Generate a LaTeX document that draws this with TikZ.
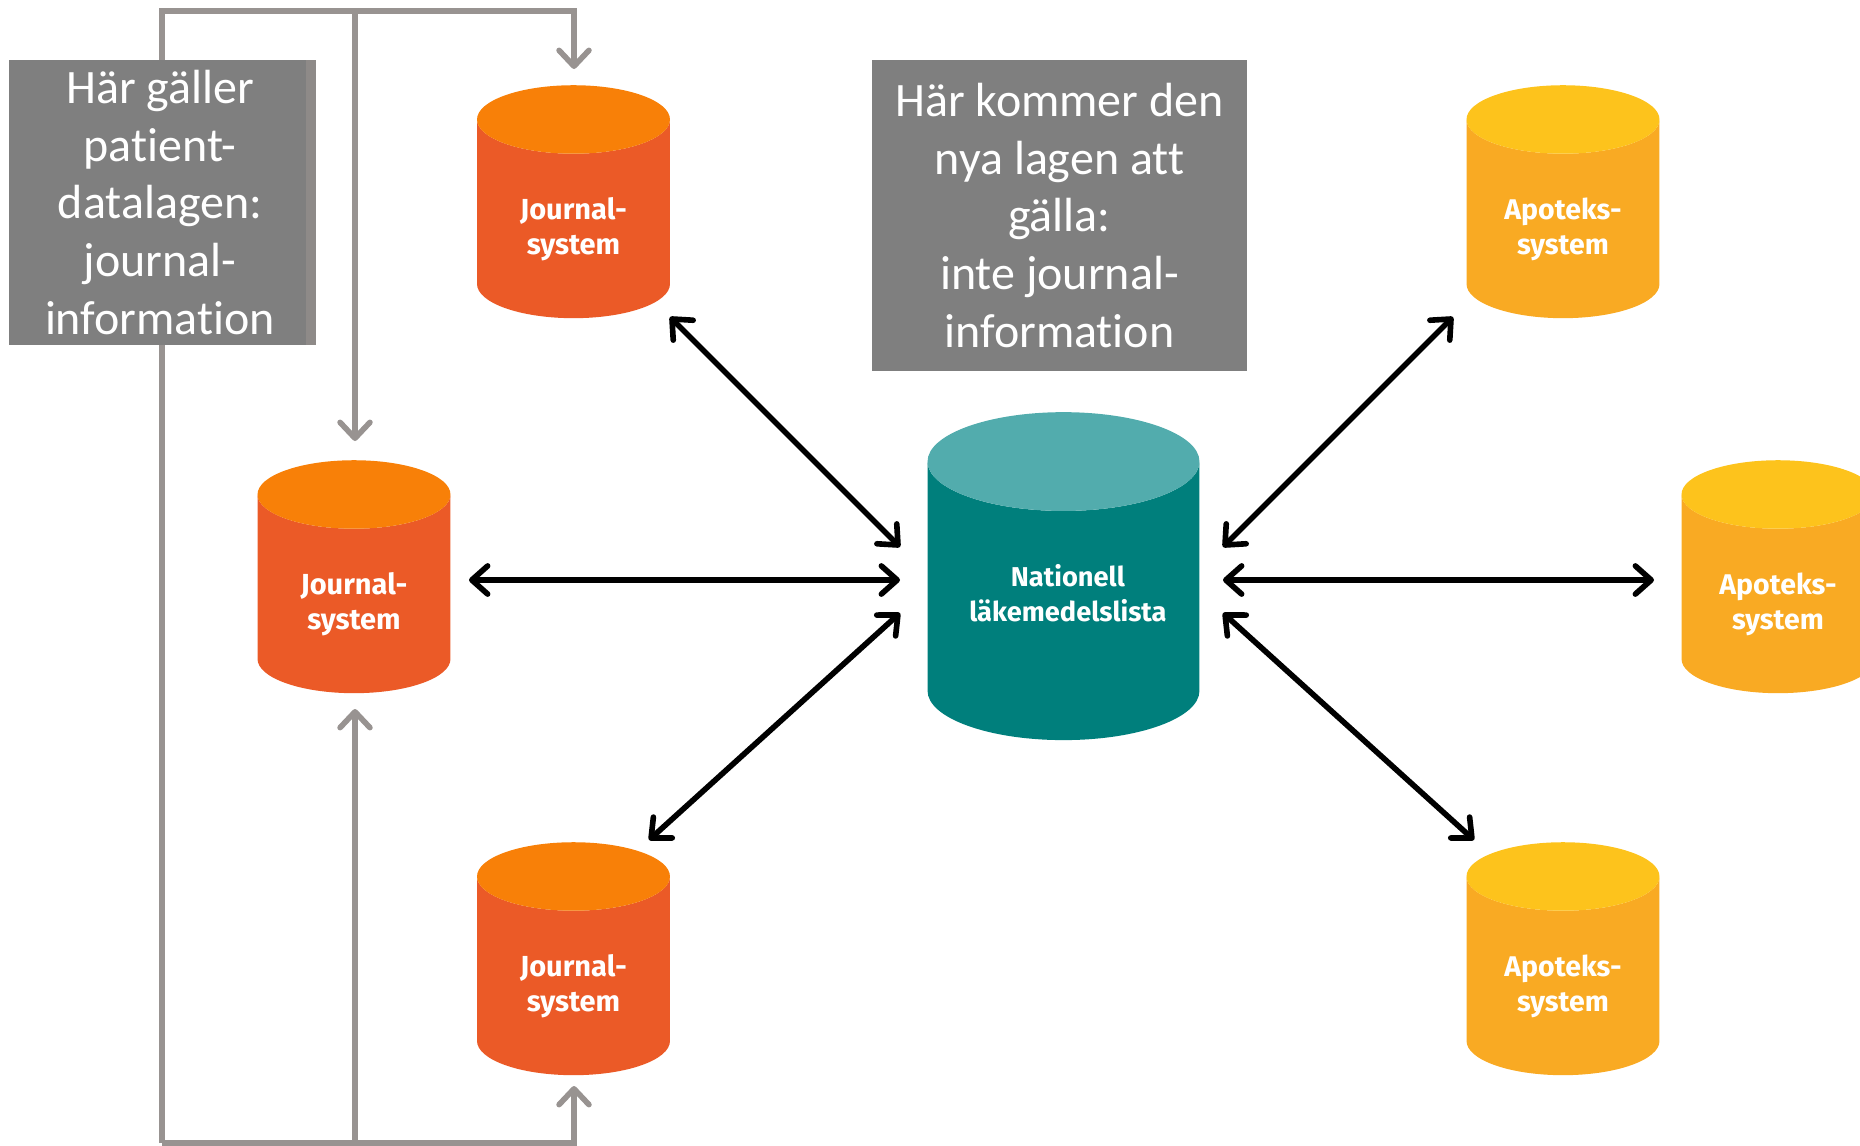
\documentclass[tikz,border=0pt]{standalone}
\usepackage{fontspec}
\setmainfont[Ligatures=CommonOff]{Carlito}
\newfontfamily\dbfont{Fira Sans}
\usetikzlibrary{arrows.meta,shapes.geometric}
\definecolor{wiregrey}{HTML}{989391}
\definecolor{boxgrey}{HTML}{7F7F7F}
\definecolor{stripgrey}{HTML}{8E8A88}
\begin{document}
\begin{tikzpicture}[x=0.02cm,y=-0.02cm,%
        dbcyl/.style={shape=cylinder,shape border rotate=90,aspect=0.527,draw=none,inner sep=0pt,outer sep=0pt,
            minimum width=3.86cm,minimum height=4.66cm,cylinder uses custom fill,text width=2.6cm,
            text=white,align=center},
        journal/.style={dbcyl,cylinder body fill=journalbody,cylinder end fill=journaltop,
            execute at begin node={\rule{0pt}{24pt}},font=\dbfont\bfseries\fontsize{16.5}{20}\selectfont},
        apotek/.style={dbcyl,cylinder body fill=apotekbody,cylinder end fill=apotektop,
            execute at begin node={\rule{0pt}{24pt}},font=\dbfont\bfseries\fontsize{16.2}{20}\selectfont},
        infobox/.style={shape=rectangle,fill=boxgrey,text=white,inner sep=0pt,outer sep=0pt,align=center,
            font=\fontsize{27.3}{32.8}\selectfont},
        wire/.style={draw=wiregrey,line width=3.2pt},
        wirehead/.style={wire,-{Straight Barb[round,length=9pt,width=17pt]}},
        link/.style={line width=3.2pt,line cap=round,{Straight Barb[round,length=9pt,width=16pt]}-{Straight Barb[round,length=9pt,width=16pt]}}
    ]
    \definecolor{journalbody}{HTML}{EB5A27}
    \definecolor{journaltop}{HTML}{F88008}
    \definecolor{apotekbody}{HTML}{F9AA23}
    \definecolor{apotektop}{HTML}{FDC31C}
    \definecolor{listbody}{HTML}{007F7C}
    \definecolor{listtop}{HTML}{52ACAD}
    \path [use as bounding box,clip] (0,0) rectangle (1860,1146);
    % grey wires first, the left box hides them
    \coordinate (topl) at (162,11);
    \coordinate (topm) at (355,11);
    \coordinate (topr) at (574,11);
    \coordinate (botl) at (162,1143);
    \coordinate (botm) at (355,1143);
    \coordinate (botr) at (574,1143);
    \coordinate (inj1) at (574,69);
    \coordinate (inj2a) at (355,441);
    \coordinate (inj2b) at (355,709);
    \coordinate (inj3) at (574,1086);
    \draw [wirehead] (botl) -- (topl) -- (topr) -- (inj1);
    \draw [wirehead] (topm) -- (inj2a);
    \draw [wirehead] (botl) -- (botr) -- (inj3);
    \draw [wirehead] (botm) -- (inj2b);

    \node [infobox,minimum width=6.04cm,minimum height=5.7cm] (patbox) at (160,202.5)
        {Här gäller\\patient-\\datalagen:\\journal-\\information};
    \fill [stripgrey] (306,60) rectangle (316,345);
    \node [infobox,minimum width=7.5cm,minimum height=6.22cm] (newbox) at (1059.5,215.5)
        {Här kommer den\\nya lagen att\\gälla:\\inte journal-\\information};

    \node [journal] (j1) at (573.5,219) {Journal-\\system};
    \node [journal] (j2) at (354,594) {Journal-\\system};
    \node [journal] (j3) at (573.5,976) {Journal-\\system};
    \node [apotek] (a1) at (1563,219) {Apoteks-\\system};
    \node [apotek] (a2) at (1778,594) {Apoteks-\\system};
    \node [apotek] (a3) at (1563,976) {Apoteks-\\system};
    \node [dbcyl,aspect=0.38,minimum width=5.44cm,minimum height=6.56cm,text width=5.2cm,text depth=29pt,cylinder body fill=listbody,
        cylinder end fill=listtop,font=\dbfont\bfseries\fontsize{15.5}{20}\selectfont] (nl) at (1063.5,601)
        {\hspace*{5pt}Nationell\\\hspace*{5pt}läkemedelslista};

    % arrow ends around the list
    \coordinate (nlnw) at (900,547);
    \coordinate (nlw) at (900,580);
    \coordinate (nlsw) at (900,613);
    \coordinate (nlne) at (1223,547);
    \coordinate (nle) at (1223,580);
    \coordinate (nlse) at (1223,613);
    \coordinate (j1end) at (670,317);
    \coordinate (j2end) at (469,580);
    \coordinate (j3end) at (649,840);
    \coordinate (a1end) at (1453,317);
    \coordinate (a2end) at (1654,580);
    \coordinate (a3end) at (1474,840);
    \draw [link] (j1end) -- (nlnw);
    \draw [link] (j2end) -- (nlw);
    \draw [link] (j3end) -- (nlsw);
    \draw [link] (a1end) -- (nlne);
    \draw [link] (a2end) -- (nle);
    \draw [link] (a3end) -- (nlse);
\end{tikzpicture}
\end{document}
